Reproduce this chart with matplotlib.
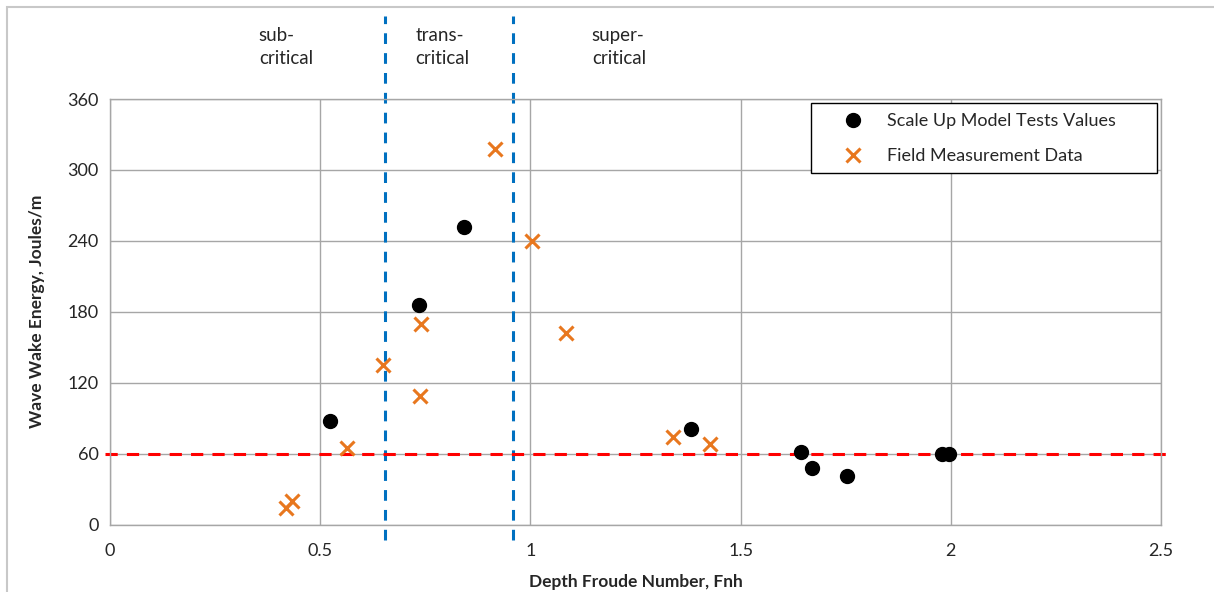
import matplotlib
matplotlib.use("Agg")
import matplotlib.pyplot as plt
import matplotlib.transforms as mtransforms
from matplotlib.patches import Rectangle

plt.rcParams['font.family'] = ['Lato', 'DejaVu Sans']

#---Data---
model_fnh = [0.524, 0.735, 0.841, 1.382, 1.643, 1.670, 1.752, 1.980, 1.995]
model_energy = [87.5, 186, 252, 81, 61.5, 47.5, 41, 60, 60]

field_fnh = [0.418, 0.432, 0.564, 0.650, 0.738, 0.740, 0.916, 1.003, 1.085, 1.340, 1.427]
field_energy = [14, 19.5, 64.5, 135, 109, 170, 318, 240, 162, 74, 68.5]

regime_bounds = [0.655, 0.959]
regime_names = ["sub-\ncritical", "trans-\ncritical", "super-\ncritical"]
regime_text_x = [0.354, 0.727, 1.146]
threshold = 60

x_ticks = [0, 0.5, 1, 1.5, 2, 2.5]
x_ticklabels = ["0", "0.5", "1", "1.5", "2", "2.5"]
y_ticks = [0, 60, 120, 180, 240, 300, 360]

#---Figure---
W, H = 1214, 592
fig = plt.figure(figsize=(W / 100, H / 100), dpi=100)
ax = fig.add_axes([110 / W, (H - 524.5) / H, 1051 / W, 425.5 / H])

# outer chart border (only top and left visible)
fig.add_artist(Rectangle((7 / W, -0.1), 1.2, (H - 7) / H + 0.1, transform=fig.transFigure,
                         fill=False, edgecolor='#c8c8c8', linewidth=1.5))

ax.set_xlim(0, 2.5)
ax.set_ylim(0, 360)
ax.set_xticks(x_ticks)
ax.set_xticklabels(x_ticklabels)
ax.set_yticks(y_ticks)
ax.grid(True, color='#a6a6a6', linewidth=1)
ax.set_axisbelow(True)
for s in ax.spines.values():
    s.set_color('#a6a6a6')
    s.set_linewidth(1)
ax.tick_params(length=0, labelsize=13, colors='#262626', pad=8)
ax.tick_params(axis='x', pad=13)

ax.set_xlabel("Depth Froude Number, Fnh", fontsize=12.5, fontweight='bold', color='#262626', labelpad=11)
ax.set_ylabel("Wave Wake Energy, Joules/m", fontsize=12.5, fontweight='bold', color='#262626', labelpad=16)

#---Regime boundaries and threshold---
for b in regime_bounds:
    ax.axvline(b, ymin=-0.036, ymax=1.195, color='#0070c0', linestyle=(0, (3.5, 3)),
               linewidth=2.2, clip_on=False, zorder=2)
ax.axhline(threshold, xmin=-0.005, xmax=1.0095, color='#ff0000', linestyle=(0, (4, 3)),
           linewidth=2.2, clip_on=False, zorder=2)

trans = mtransforms.blended_transform_factory(ax.transData, fig.transFigure)
for tx, name in zip(regime_text_x, regime_names):
    ax.text(tx, (H - 27) / H, name, transform=trans, ha='left', va='top',
            fontsize=13.5, color='#262626', linespacing=1.4)

#---Points---
ax.plot(model_fnh, model_energy, 'o', color='black', markersize=10, linestyle='none',
        label='Scale Up Model Tests Values', zorder=4)
ax.plot(field_fnh, field_energy, 'x', color='#e8771e', markersize=10, markeredgewidth=2.2,
        linestyle='none', label='Field Measurement Data', zorder=4)

#---Legend: frame drawn separately so it can be wider than the entries---
box = Rectangle((811 / W, (H - 173) / H), 346 / W, 70 / H, transform=fig.transFigure,
                facecolor='white', edgecolor='black', linewidth=1, zorder=5, clip_on=False)
ax.add_artist(box)
leg = ax.legend(loc='upper left', bbox_to_anchor=(811 / W, (H - 103) / H),
                bbox_transform=fig.transFigure, frameon=False,
                fontsize=13, borderpad=0.55, labelspacing=1.08,
                handletextpad=0.05, borderaxespad=0, handlelength=3.6)
leg.set_zorder(6)
for t in leg.get_texts():
    t.set_color('#262626')

fig.savefig("out.png", dpi=100)
